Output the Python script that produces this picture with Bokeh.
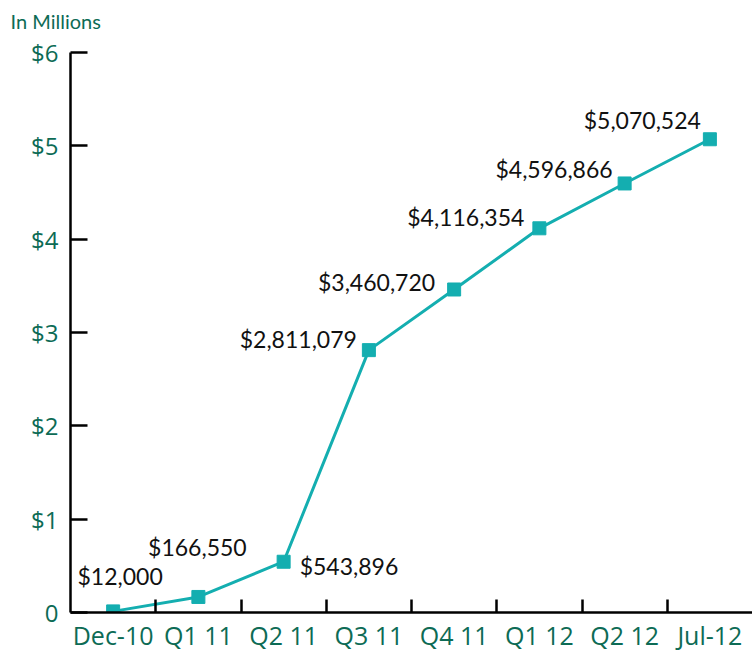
from bokeh.plotting import figure
from bokeh.models import ColumnDataSource, Range1d, FixedTicker, Title
from bokeh.core.properties import value
from bokeh.embed import file_html
from bokeh.resources import INLINE

# ---- data ----
categories = ["Dec-10", "Q1 11", "Q2 11", "Q3 11", "Q4 11", "Q1 12", "Q2 12", "Jul-12"]
amounts = [12000, 166550, 543896, 2811079, 3460720, 4116354, 4596866, 5070524]
y_ticks = [0, 1, 2, 3, 4, 5, 6]
y_tick_labels = ["0", "$1", "$2", "$3", "$4", "$5", "$6"]
unit_label = "In Millions"

# ---- label styling (per point) ----
label_align = ["center", "center", "left", "right", "right", "right", "right", "right"]
label_dx = [7, -1, 16, -12, -19, -15, -12, -9]
label_dy = [-35, -50, 4, -11, -7, -11, -14, -19]

GREEN = "#0d6b55"
TEAL = "#14aeb0"
FONT = "Lato"
AXFONT = "Open Sans"

xs = [i + 0.5 for i in range(len(categories))]
millions = [a / 1e6 for a in amounts]
src = ColumnDataSource(dict(
    x=xs, y=millions,
    label=[f"${a:,}" for a in amounts],
    align=label_align, dx=label_dx, dy=label_dy,
))

p = figure(width=752, height=654, output_backend="svg", toolbar_location=None,
           x_range=Range1d(0, len(categories)), y_range=Range1d(0, 6),
           min_border_left=70, min_border_right=0, min_border_top=52,
           min_border_bottom=41)
p.outline_line_color = None
p.grid.visible = False
p.background_fill_color = "white"
p.border_fill_color = "white"

# unit note; a blank second line lifts the text toward the top edge
t = Title(text=unit_label + "\n\u00a0", align="left", offset=-60, standoff=12,
          text_line_height=0.58, text_color=GREEN, text_font=FONT,
          text_font_size="20px", text_font_style="normal")
p.add_layout(t, "above")

p.line("x", "y", source=src, line_color=TEAL, line_width=3)
p.scatter("x", "y", source=src, marker="square", size=13, fill_color=TEAL,
          line_color=TEAL)
p.text("x", "y", text="label", source=src, text_align="align",
       x_offset="dx", y_offset="dy", text_baseline="middle",
       text_font=value(FONT), text_font_size="23px", text_color="#111111")

# x axis: labels at centers, ticks between categories (minor ticks)
xa = p.xaxis[0]
xa.ticker = FixedTicker(ticks=xs, minor_ticks=list(range(1, len(categories))))
xa.major_label_overrides = {x: c for x, c in zip(xs, categories)}
xa.major_tick_in = 0
xa.major_tick_out = 0
xa.minor_tick_in = 13
xa.minor_tick_out = 0
xa.minor_tick_line_color = "black"
xa.minor_tick_line_width = 2.5
xa.axis_line_width = 2.5
xa.axis_line_color = "black"
xa.major_label_text_font = AXFONT
xa.major_label_text_font_size = "25px"
xa.major_label_text_color = GREEN
xa.major_label_standoff = 5

ya = p.yaxis[0]
ya.ticker = FixedTicker(ticks=y_ticks, minor_ticks=[])
ya.major_label_overrides = {t_: l for t_, l in zip(y_ticks, y_tick_labels)}
ya.major_tick_in = 17
ya.major_tick_out = 0
ya.major_tick_line_width = 2.5
ya.major_tick_line_color = "black"
ya.axis_line_width = 2.5
ya.axis_line_color = "black"
ya.major_label_text_font = AXFONT
ya.major_label_text_font_size = "24px"
ya.major_label_text_color = GREEN
ya.major_label_standoff = 12

open("out.html", "w").write(file_html(p, INLINE))
